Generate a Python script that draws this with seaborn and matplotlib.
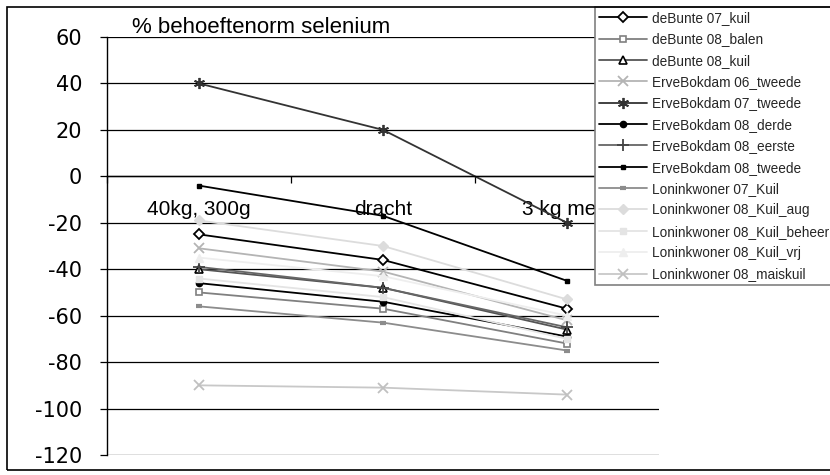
import matplotlib
matplotlib.use("Agg")
import matplotlib.pyplot as plt
from matplotlib.patches import Rectangle
from matplotlib.ticker import FixedLocator, NullFormatter
import seaborn as sns
import pandas as pd

categories = ["40kg, 300g", "dracht", "3 kg meel"]

series_names = [
    "deBunte 07_kuil",
    "deBunte 08_balen",
    "deBunte 08_kuil",
    "ErveBokdam 06_tweede",
    "ErveBokdam 07_tweede",
    "ErveBokdam 08_derde",
    "ErveBokdam 08_eerste",
    "ErveBokdam 08_tweede",
    "Loninkwoner 07_Kuil",
    "Loninkwoner 08_Kuil_aug",
    "Loninkwoner 08_Kuil_beheer",
    "Loninkwoner 08_Kuil_vrj",
    "Loninkwoner 08_maiskuil",
]

debunte_07_kuil = [-25, -36, -57]
debunte_08_balen = [-50, -57, -72]
debunte_08_kuil = [-40, -48, -66]
ervebokdam_06_tweede = [-31, -41, -62]
ervebokdam_07_tweede = [40, 20, -20]
ervebokdam_08_derde = [-46, -54, -69]
ervebokdam_08_eerste = [-39, -48, -65]
ervebokdam_08_tweede = [-4, -17, -45]
loninkwoner_07_kuil = [-56, -63, -75]
loninkwoner_08_kuil_aug = [-19, -30, -53]
loninkwoner_08_kuil_beheer = [-44, -52, -70]
loninkwoner_08_kuil_vrj = [-35, -43, -60]
loninkwoner_08_maiskuil = [-90, -91, -94]

y_ticks = [60, 40, 20, 0, -20, -40, -60, -80, -100, -120]
title_text = "% behoeftenorm selenium"

all_values = [
    debunte_07_kuil, debunte_08_balen, debunte_08_kuil,
    ervebokdam_06_tweede, ervebokdam_07_tweede, ervebokdam_08_derde,
    ervebokdam_08_eerste, ervebokdam_08_tweede, loninkwoner_07_kuil,
    loninkwoner_08_kuil_aug, loninkwoner_08_kuil_beheer,
    loninkwoner_08_kuil_vrj, loninkwoner_08_maiskuil,
]

rows = []
for name, vals in zip(series_names, all_values):
    for i, (cat, v) in enumerate(zip(categories, vals)):
        rows.append({"reeks": name, "pos": i, "categorie": cat, "waarde": v})
df = pd.DataFrame(rows)

# per-series line colour and marker styling
styles = {
    "deBunte 07_kuil": dict(color="#000000", marker="D", ms=5, mfc="white", mec="#000000", mew=1.3),
    "deBunte 08_balen": dict(color="#808080", marker="s", ms=5, mfc="white", mec="#808080", mew=1.2),
    "deBunte 08_kuil": dict(color="#555555", marker="^", ms=5.5, mfc="white", mec="#000000", mew=1.2),
    "ErveBokdam 06_tweede": dict(color="#b4b4b4", marker="x", ms=7, mfc="none", mec="#b4b4b4", mew=1.3),
    "ErveBokdam 07_tweede": dict(color="#333333", marker=(6, 2, 0), ms=8, mfc="none", mec="#333333", mew=1.3),
    "ErveBokdam 08_derde": dict(color="#000000", marker="o", ms=4.5, mfc="#000000", mec="#000000", mew=1),
    "ErveBokdam 08_eerste": dict(color="#666666", marker="+", ms=8, mfc="none", mec="#444444", mew=1.3),
    "ErveBokdam 08_tweede": dict(color="#000000", marker="s", ms=3.2, mfc="#000000", mec="#000000", mew=1),
    "Loninkwoner 07_Kuil": dict(color="#8c8c8c", marker="_", ms=5, mfc="#8c8c8c", mec="#8c8c8c", mew=3),
    "Loninkwoner 08_Kuil_aug": dict(color="#dcdcdc", marker="D", ms=5, mfc="#dcdcdc", mec="#dcdcdc", mew=1),
    "Loninkwoner 08_Kuil_beheer": dict(color="#e4e4e4", marker="s", ms=5, mfc="#e4e4e4", mec="#e4e4e4", mew=1),
    "Loninkwoner 08_Kuil_vrj": dict(color="#eeeeee", marker="^", ms=5.5, mfc="#eeeeee", mec="#eeeeee", mew=1),
    "Loninkwoner 08_maiskuil": dict(color="#c8c8c8", marker="x", ms=7, mfc="none", mec="#c0c0c0", mew=1.3),
}

sns.set_theme(style="white")
plt.rcParams["font.family"] = ["Liberation Sans", "DejaVu Sans"]

fig = plt.figure(figsize=(8.3, 4.75), dpi=100)
fig.patch.set_facecolor("white")

W, H = 830.0, 475.0
ax_left, ax_right, ax_top, ax_bottom = 107, 659, 37, 455
ax = fig.add_axes([ax_left / W, 1 - ax_bottom / H,
                   (ax_right - ax_left) / W, (ax_bottom - ax_top) / H])
ax.set_facecolor("white")

for name in series_names:
    st = styles[name]
    sub = df[df["reeks"] == name]
    sns.lineplot(data=sub, x="pos", y="waarde", ax=ax, color=st["color"],
                 marker=st["marker"], markersize=st["ms"],
                 markerfacecolor=st["mfc"], markeredgecolor=st["mec"],
                 markeredgewidth=st["mew"], linewidth=1.3, label=name,
                 sort=False, errorbar=None)

ax.set_xlim(-0.5, len(categories) - 0.5)
ax.set_ylim(min(y_ticks), max(y_ticks))
ax.set_xlabel("")
ax.set_ylabel("")

# horizontal gridlines
ax.set_yticks(y_ticks)
ax.yaxis.grid(True, color="#000000", linewidth=0.9)
ax.xaxis.grid(False)
ax.set_axisbelow(True)

for s in ["top", "right"]:
    ax.spines[s].set_visible(False)
ax.spines["left"].set_color("#000000")
ax.spines["left"].set_linewidth(1.0)
ax.spines["bottom"].set_position(("data", 0))
ax.spines["bottom"].set_color("#000000")
ax.spines["bottom"].set_linewidth(1.0)

ax.set_yticklabels([str(t) for t in y_ticks], family=["DejaVu Sans"])
ax.tick_params(axis="y", which="major", length=5, width=0.9, color="#000000",
               direction="out", left=True, pad=13, labelsize=15,
               labelcolor="#000000")

# category labels under the zero line, ticks between categories
ax.set_xticks(range(len(categories)))
ax.set_xticklabels(categories)
ax.tick_params(axis="x", which="major", length=0, pad=17, labelsize=15,
               labelcolor="#000000")
ax.xaxis.set_minor_locator(FixedLocator([i + 0.5 for i in range(-1, len(categories))]))
ax.xaxis.set_minor_formatter(NullFormatter())
ax.tick_params(axis="x", which="minor", length=5, width=0.9, color="#000000",
               direction="out", bottom=True)

fig.text(132 / W, 1 - 33 / H, title_text, fontsize=16, color="#000000",
         ha="left", va="baseline")

handles, labels = ax.get_legend_handles_labels()
ax.get_legend().remove()
leg = fig.legend(handles, labels, loc="upper left",
                 bbox_to_anchor=(595 / W, 1 - 7 / H), fontsize=9.8,
                 frameon=True, fancybox=False, framealpha=1,
                 edgecolor="#808080", facecolor="white",
                 handlelength=3.55, handletextpad=0.35, labelspacing=0.54,
                 borderpad=0.3, borderaxespad=0)
leg.get_frame().set_linewidth(1.2)
leg.set_zorder(10)

# chart outline
fig.patches.append(Rectangle((7 / W, 1 - 470 / H), 840 / W, 463 / H,
                             transform=fig.transFigure, fill=False,
                             edgecolor="#000000", linewidth=1.2, zorder=20))

fig.savefig("out.png", dpi=100, facecolor="white")
